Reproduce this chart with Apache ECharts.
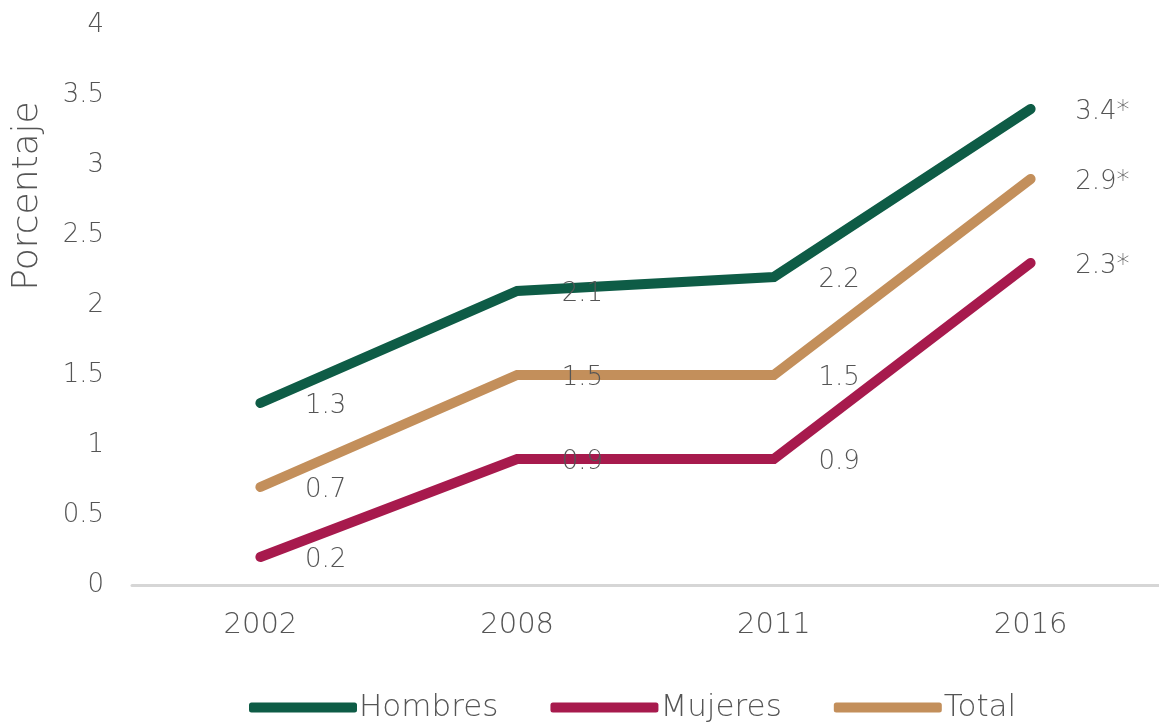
<!DOCTYPE html>
<html>
<head>
<meta charset="utf-8">
<script src="https://cdn.jsdelivr.net/npm/echarts@6/dist/echarts.min.js"></script>
<style>
  html, body { margin: 0; padding: 0; background: #fff; }
  #chart { width: 1159px; height: 723px; }
</style>
</head>
<body>
<div id="chart"></div>
<script>
// Survey years on the horizontal axis
const years = ['2002', '2008', '2011', '2016'];
// Percentages by group
const hombres = [1.3, 2.1, 2.2, 3.4];
const mujeres = [0.2, 0.9, 0.9, 2.3];
const total = [0.7, 1.5, 1.5, 2.9];
// Point labels (2016 values flagged with an asterisk)
const hombresLabels = ['1.3', '2.1', '2.2', '3.4*'];
const mujeresLabels = ['0.2', '0.9', '0.9', '2.3*'];
const totalLabels = ['0.7', '1.5', '1.5', '2.9*'];
// Y axis ticks
const yMin = 0, yMax = 4, yStep = 0.5;

const FONT = '"DejaVu Sans", "Noto Sans", sans-serif';
const WEIGHT = 300;
const TEXT = '#555555';

function lineSeries(name, values, labels, color) {
  return {
    name: name,
    type: 'line',
    data: values,
    symbol: 'circle',
    symbolSize: 1,
    itemStyle: { color: color },
    lineStyle: { color: color, width: 10, cap: 'round', join: 'miter' },
    emphasis: { disabled: true },
    label: {
      show: true,
      position: 'right',
      distance: 44,
      offset: [0, 3],
      color: TEXT,
      fontFamily: FONT,
      fontWeight: WEIGHT,
      fontSize: 26,
      formatter: p => labels[p.dataIndex]
    },
    z: 2
  };
}

const chart = echarts.init(document.getElementById('chart'), null, { renderer: 'canvas' });
chart.setOption({
  backgroundColor: '#ffffff',
  animation: false,
  grid: { left: 132, right: -11, top: 25, bottom: 138, containLabel: false },
  xAxis: {
    type: 'category',
    data: years,
    boundaryGap: true,
    axisLine: { show: true, lineStyle: { color: '#d6d6d6', width: 3 } },
    axisTick: { show: false },
    axisLabel: { color: TEXT, fontFamily: FONT, fontWeight: WEIGHT, fontSize: 29, margin: 26 }
  },
  yAxis: {
    type: 'value',
    min: yMin,
    max: yMax,
    interval: yStep,
    axisLine: { show: false },
    axisTick: { show: false },
    splitLine: { show: false },
    axisLabel: { color: TEXT, fontFamily: FONT, fontWeight: WEIGHT, fontSize: 26, margin: 28 }
  },
  legend: {
    bottom: -5,
    left: 244,
    itemWidth: 108,
    itemHeight: 10,
    itemGap: 52,
    icon: 'roundRect',
    data: ['Hombres', 'Mujeres', 'Total'],
    textStyle: { color: TEXT, fontFamily: FONT, fontWeight: WEIGHT, fontSize: 31, padding: [0, 0, 0, -3] }
  },
  graphic: [{
    type: 'text',
    x: 28,
    y: 196,
    rotation: Math.PI / 2,
    style: {
      text: 'Porcentaje',
      fill: TEXT,
      font: WEIGHT + ' 36px ' + FONT,
      align: 'center',
      verticalAlign: 'middle'
    }
  }],
  series: [
    lineSeries('Hombres', hombres, hombresLabels, '#0e5c46'),
    lineSeries('Mujeres', mujeres, mujeresLabels, '#a71a4d'),
    lineSeries('Total', total, totalLabels, '#c38f5b')
  ]
});
</script>
</body>
</html>
